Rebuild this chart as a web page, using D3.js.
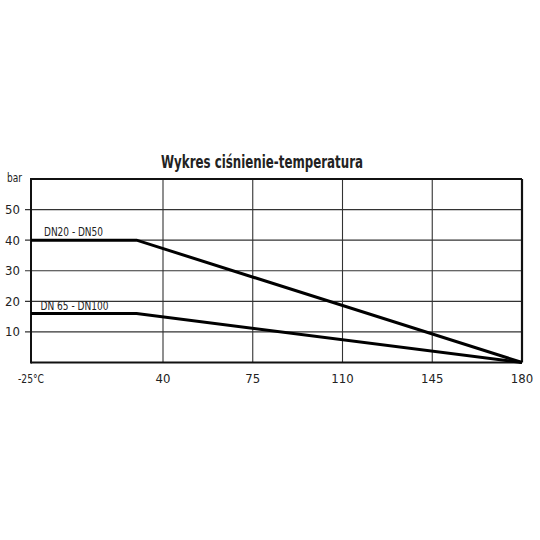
<!DOCTYPE html>
<html><head><meta charset="utf-8">
<script src="https://cdn.jsdelivr.net/npm/d3@7"></script>
<style>body{margin:0;background:#fff}svg{display:block}text{font-family:"DejaVu Sans Condensed","Liberation Sans Narrow",sans-serif;fill:#222}</style>
</head><body><svg id="c" width="540" height="540"></svg>
<script>
const xTicks = [-25, 40, 75, 110, 145, 180];
const xTickLabels = ["-25°C", "40", "75", "110", "145", "180"];
const yTicks = [10, 20, 30, 40, 50];
const seriesNames = ["DN20 - DN50", "DN 65 - DN100"];
const seriesTemps = [[-25, 27, 180], [-25, 27, 180]];
const seriesBar = [[40, 40, 0], [16, 16, 0]];
const title = "Wykres ciśnienie-temperatura";

const svg = d3.select("#c");
const x = d3.scaleLinear().domain([-25, 40, 180]).range([31, 163, 522]);
const y = d3.scaleLinear().domain([0, 60]).range([362.5, 179]);

// horizontal grid + y ticks
svg.append("g").selectAll("line").data(yTicks).join("line")
  .attr("x1", 25).attr("x2", x(180)).attr("y1", d => y(d)).attr("y2", d => y(d))
  .attr("stroke", "#333").attr("stroke-width", 1.1);
// vertical grid
svg.append("g").selectAll("line").data(xTicks.slice(1, -1)).join("line")
  .attr("x1", d => x(d)).attr("x2", d => x(d)).attr("y1", y(60)).attr("y2", y(0))
  .attr("stroke", "#333").attr("stroke-width", 1.1);
// frame
svg.append("line").attr("x1", x(-25)).attr("x2", x(180)).attr("y1", y(60)).attr("y2", y(60)).attr("stroke", "#111").attr("stroke-width", 2);
svg.append("line").attr("x1", x(180)).attr("x2", x(180)).attr("y1", y(60)).attr("y2", y(0)).attr("stroke", "#111").attr("stroke-width", 2.2);
svg.append("line").attr("x1", x(-25)).attr("x2", x(-25)).attr("y1", y(60) - 1).attr("y2", y(0) + 1).attr("stroke", "#111").attr("stroke-width", 2);
svg.append("line").attr("x1", x(-25)).attr("x2", x(180)).attr("y1", y(0)).attr("y2", y(0)).attr("stroke", "#111").attr("stroke-width", 2);

// series
const line = d3.line().x(d => x(d[0])).y(d => y(d[1]));
seriesNames.forEach((n, i) => {
  const pts = seriesTemps[i].map((t, j) => [t, seriesBar[i][j]]);
  svg.append("path").attr("d", line(pts)).attr("fill", "none").attr("stroke", "#000").attr("stroke-width", 3);
});
// series labels
svg.append("text").attr("x", 44).attr("y", y(40) - 4).attr("font-size", 13)
  .attr("textLength", 59).attr("lengthAdjust", "spacingAndGlyphs").text(seriesNames[0]);
svg.append("text").attr("x", 40.5).attr("y", y(16) - 4).attr("font-size", 13)
  .attr("textLength", 68).attr("lengthAdjust", "spacingAndGlyphs").text(seriesNames[1]);

// y tick labels
svg.append("g").selectAll("text").data(yTicks).join("text")
  .attr("x", 20).attr("y", d => y(d) + 4.5).attr("text-anchor", "end").attr("font-size", 13).text(d => d);
svg.append("text").attr("x", 7).attr("y", 182).attr("font-size", 13)
  .attr("textLength", 15).attr("lengthAdjust", "spacingAndGlyphs").text("bar");
// x tick labels
svg.append("g").selectAll("text").data(xTicks).join("text")
  .attr("x", d => x(d)).attr("y", 383).attr("text-anchor", "middle").attr("font-size", 13)
  .attr("textLength", (d, i) => i === 0 ? 26 : null)
  .attr("lengthAdjust", "spacingAndGlyphs")
  .text((d, i) => xTickLabels[i]);
// title
svg.append("text").attr("x", 161).attr("y", 168).attr("font-size", 17).attr("font-weight", "bold")
  .attr("textLength", 202).attr("lengthAdjust", "spacingAndGlyphs").text(title);
</script></body></html>
